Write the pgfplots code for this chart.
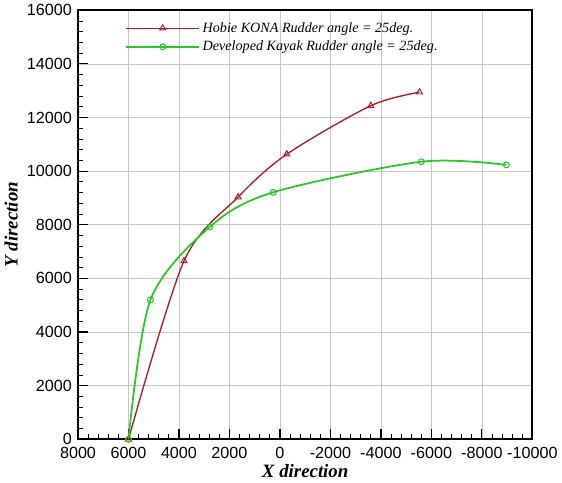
\documentclass[border=0pt]{standalone}
\usepackage{fontspec}
\setmainfont{Liberation Serif}
\newfontfamily\arial{Liberation Sans}
\usepackage{pgfplots}
\pgfplotsset{compat=1.18}
\definecolor{hobie}{RGB}{170,28,40}
\definecolor{kayak}{RGB}{40,200,40}
\begin{document}
\begin{tikzpicture}
\begin{axis}[
    scale only axis, width=337.5pt, height=318.75pt,
    x dir=reverse,
    xmin=-10000, xmax=8000, ymin=0, ymax=16000,
    xtick={-10000,-8000,...,8000}, ytick={0,2000,...,16000},
    scaled ticks=false,
    minor x tick num=4, minor y tick num=4,
    tick pos=left, tick align=inside,
    major tick length=7.5pt, minor tick length=4pt,
    major tick style={black, line width=0.9pt},
    minor tick style={black, line width=0.6pt},
    axis line style={line width=1.3pt},
    xmajorgrids, ymajorgrids,
    major grid style={draw=gray!45, line width=0.5pt},
    /pgf/number format/assume math mode=true,
    /pgf/number format/1000 sep={},
    tick label style={font=\arial\fontsize{12}{12}\selectfont},
    xticklabel style={yshift=-2pt},
    yticklabel style={xshift=-1pt},
    xlabel={\textbf{\textit{X direction}}}, ylabel={\textbf{\textit{Y direction}}},
    label style={font=\fontsize{14}{14}\selectfont},
    xlabel style={yshift=2pt}, ylabel style={yshift=0pt},
    legend style={draw=none, fill=none, at={(0.095,0.985)}, anchor=north west,
        font=\itshape\fontsize{10.5}{12}\selectfont, row sep=1pt},
    legend cell align=left,
    legend image code/.code={\draw[#1, mark repeat=2, mark phase=2] plot coordinates {(0cm,0cm) (0.95cm,0cm) (1.9cm,0cm)};},
]
\addplot+[hobie, line width=1pt, smooth, mark=triangle, mark size=2.6pt, mark options={solid, line width=0.7pt, hobie}] coordinates {
    (6000,0) (3800,6650) (1660,9030) (-270,10630) (-3600,12440) (-5530,12940)};
\addlegendentry{Hobie KONA Rudder angle = 25deg.}
\addplot+[kayak, line width=1.3pt, smooth, mark=o, mark size=2.2pt, mark options={solid, line width=0.8pt, kayak}] coordinates {
    (6000,0) (5130,5200) (2780,7920) (270,9210) (-5600,10350) (-8970,10230)};
\addlegendentry{Developed Kayak Rudder angle = 25deg.}
\end{axis}
\end{tikzpicture}
\end{document}
